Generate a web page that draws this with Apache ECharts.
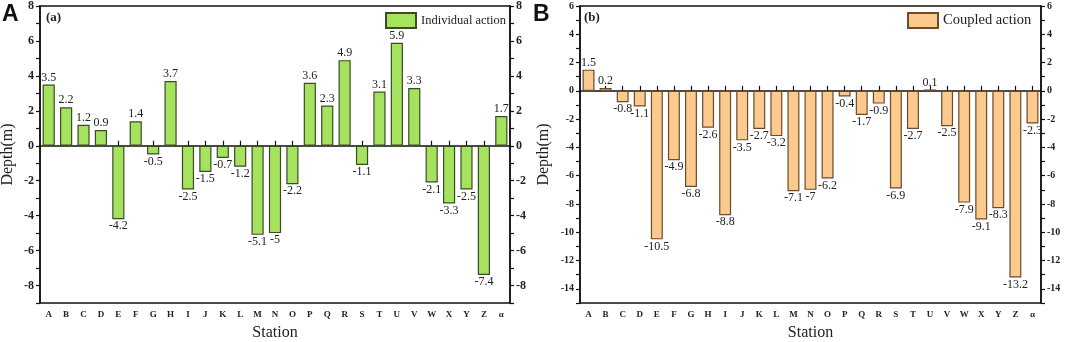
<!DOCTYPE html>
<html>
<head>
<meta charset="utf-8">
<script src="https://cdn.jsdelivr.net/npm/echarts@6/dist/echarts.min.js"></script>
<style>
html,body{margin:0;padding:0;background:#fff;}
#chart{width:1065px;height:342px;}
</style>
</head>
<body>
<div id="chart"></div>
<script>
var stations = ['A','B','C','D','E','F','G','H','I','J','K','L','M','N','O','P','Q','R','S','T','U','V','W','X','Y','Z','α'];
var individual = [3.5,2.2,1.2,0.9,-4.2,1.4,-0.5,3.7,-2.5,-1.5,-0.7,-1.2,-5.1,-5,-2.2,3.6,2.3,4.9,-1.1,3.1,5.9,3.3,-2.1,-3.3,-2.5,-7.4,1.7];
var coupled = [1.5,0.2,-0.8,-1.1,-10.5,-4.9,-6.8,-2.6,-8.8,-3.5,-2.7,-3.2,-7.1,-7,-6.2,-0.4,-1.7,-0.9,-6.9,-2.7,0.1,-2.5,-7.9,-9.1,-8.3,-13.2,-2.3];

var serif = '"Liberation Serif","DejaVu Serif",serif';

function withLabels(arr) {
    return arr.map(function (v) {
        return {value: v, label: {position: v < 0 ? 'bottom' : 'top'}};
    });
}

function xAxisFor(grid) {
    return {
        type: 'category',
        gridIndex: grid,
        data: stations,
        boundaryGap: true,
        name: 'Station',
        nameLocation: 'middle',
        nameGap: 22,
        nameTextStyle: {fontFamily: serif, fontSize: 16, color: '#222'},
        axisLine: {lineStyle: {color: '#111', width: 1.5}},
        axisTick: {show: true, inside: true, alignWithLabel: true, length: 5, lineStyle: {color: '#111', width: 1.2}},
        axisLabel: {fontFamily: serif, fontWeight: 'bold', fontSize: 9, color: '#222', margin: 7, interval: 0},
        splitLine: {show: false}
    };
}

function yAxisFor(grid, pos, min, max, size, named, gap) {
    return {
        type: 'value',
        gridIndex: grid,
        position: pos,
        min: min,
        max: max,
        interval: 1,
        name: named ? 'Depth(m)' : '',
        nameLocation: 'middle',
        nameGap: gap,
        nameTextStyle: {fontFamily: serif, fontSize: 16, color: '#222'},
        axisLine: {show: true, lineStyle: {color: '#111', width: 1.5}},
        axisTick: {show: true, length: 4, lineStyle: {color: '#111', width: 1.2}},
        axisLabel: {
            fontFamily: serif, fontWeight: 'bold', fontSize: size, color: '#222', margin: 6,
            formatter: function (v) { return v % 2 === 0 ? String(v) : ''; }
        },
        splitLine: {show: false}
    };
}

function barSeries(name, arr, x, y, color, border) {
    return {
        name: name,
        type: 'bar',
        xAxisIndex: x,
        yAxisIndex: y,
        data: withLabels(arr),
        barWidth: '70%',
        itemStyle: {color: color, borderColor: border, borderWidth: 1.2},
        label: {show: true, fontFamily: serif, fontSize: 12, color: '#222', distance: 1}
    };
}

var myChart = echarts.init(document.getElementById('chart'));

var option = {
    animation: false,
    grid: [
        {left: 40, right: 555, top: 6, bottom: 39, show: true, borderColor: '#111', borderWidth: 1.5, outerBoundsMode: 'none'},
        {left: 580, right: 24, top: 6, bottom: 39, show: true, borderColor: '#111', borderWidth: 1.5, outerBoundsMode: 'none'}
    ],
    legend: [
        {data: ['Individual action'], left: 385, top: 12, padding: 0, icon: 'rect', itemWidth: 30, itemHeight: 15, itemGap: 5,
            textStyle: {fontFamily: serif, fontSize: 12.5, color: '#222'}},
        {data: ['Coupled action'], left: 907, top: 12, padding: 0, icon: 'rect', itemWidth: 30, itemHeight: 15, itemGap: 5,
            textStyle: {fontFamily: serif, fontSize: 14.5, color: '#222'}}
    ],
    xAxis: [xAxisFor(0), xAxisFor(1)],
    yAxis: [
        yAxisFor(0, 'left', -9, 8, 12, true, 24),
        yAxisFor(0, 'right', -9, 8, 12, false, 0),
        yAxisFor(1, 'left', -15, 6, 10, true, 28),
        yAxisFor(1, 'right', -15, 6, 10, false, 0)
    ],
    graphic: [
        {type: 'text', left: 2, top: 3, style: {text: 'A', font: 'bold 23px "Liberation Sans", Arial, sans-serif', fill: '#111'}},
        {type: 'text', left: 533, top: 3, style: {text: 'B', font: 'bold 23px "Liberation Sans", Arial, sans-serif', fill: '#111'}},
        {type: 'text', left: 46, top: 11, style: {text: '(a)', font: 'bold 13px "Liberation Serif", serif', fill: '#222'}},
        {type: 'text', left: 584, top: 11, style: {text: '(b)', font: 'bold 13px "Liberation Serif", serif', fill: '#222'}}
    ],
    series: [
        barSeries('Individual action', individual, 0, 0, '#a5e35f', '#3d4a2a'),
        barSeries('Coupled action', coupled, 1, 2, '#fdca8e', '#6b4b2c')
    ]
};

myChart.setOption(option, true);
</script>
</body>
</html>
